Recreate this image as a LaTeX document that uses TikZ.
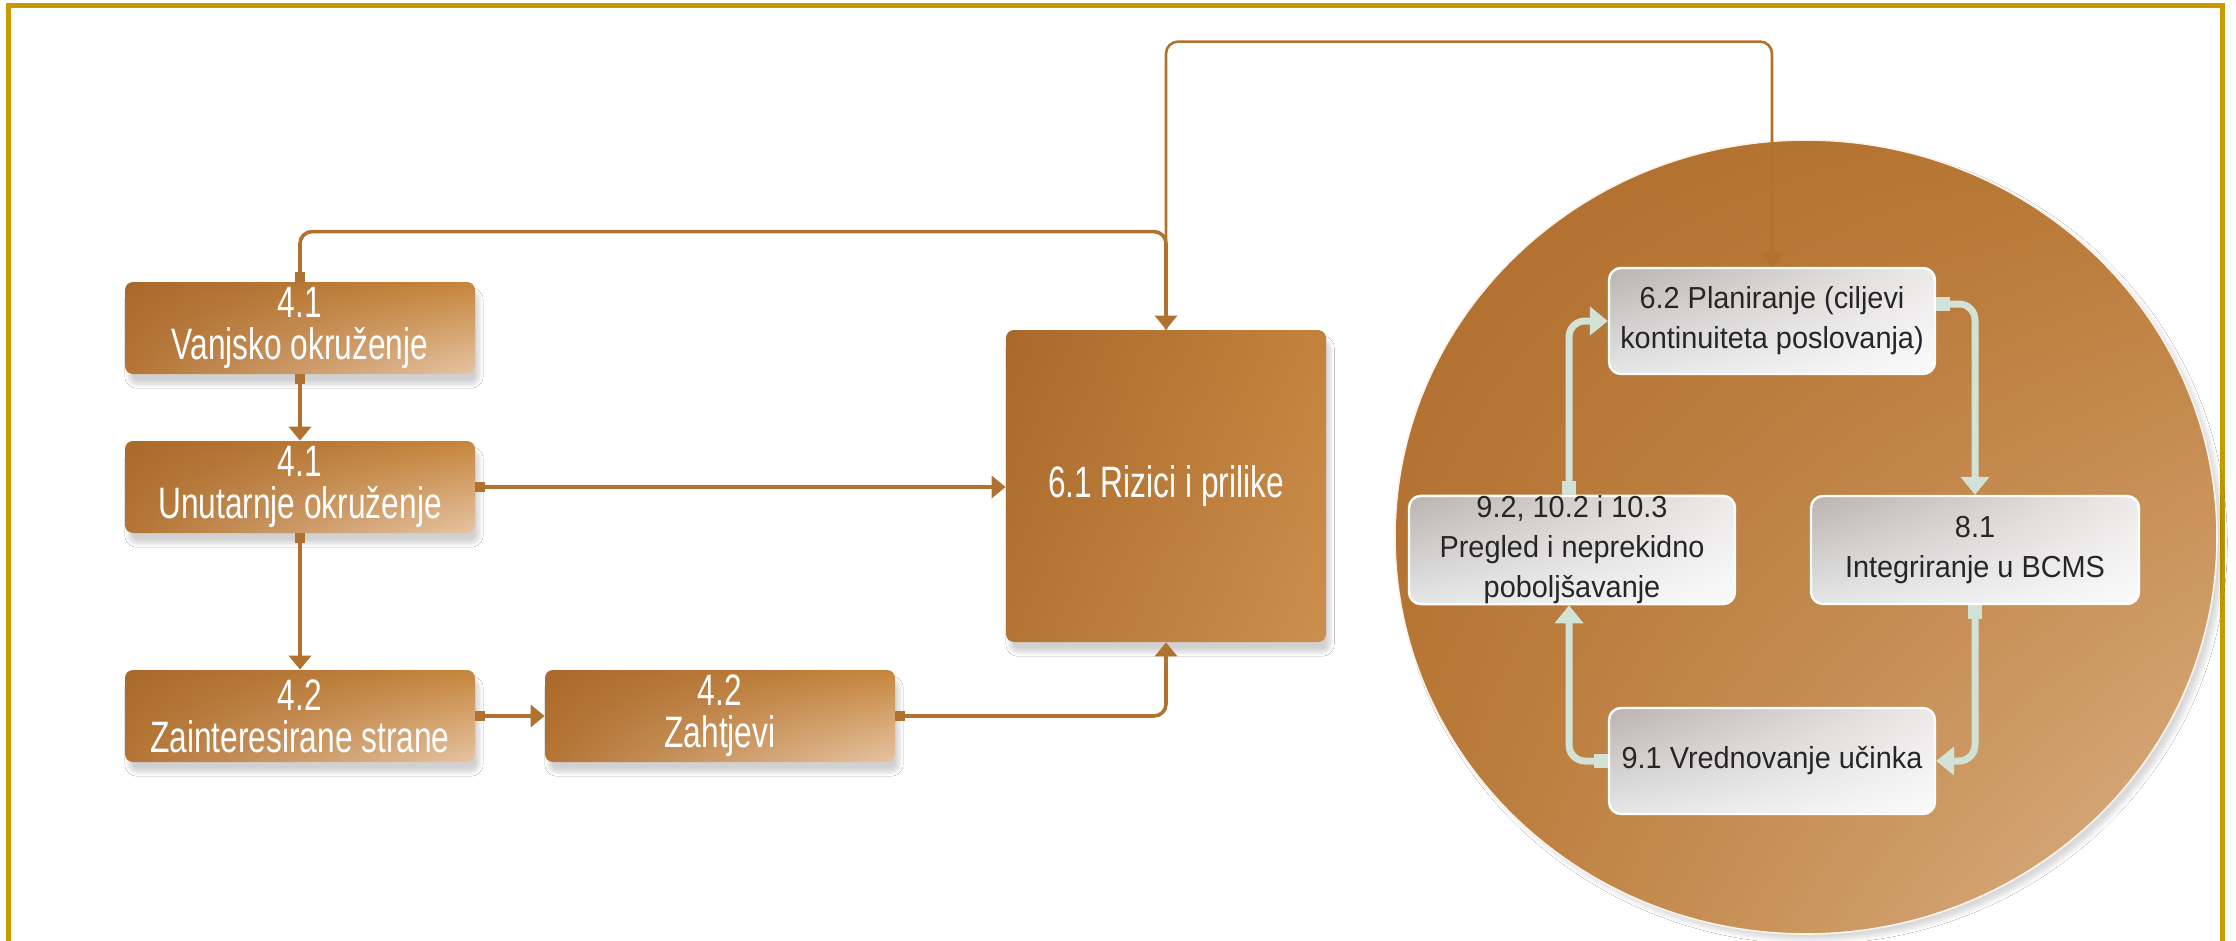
\documentclass[tikz,border=0pt]{standalone}
\usepackage{fontspec}
\setmainfont{Liberation Sans}
\newfontfamily\condfont[FakeStretch=0.72]{Liberation Sans}
\newfontfamily\greyfont[FakeStretch=0.95]{Liberation Sans}
\usetikzlibrary{arrows.meta,shadows.blur,shapes.geometric,shadings}
\definecolor{framec}{HTML}{C89B00}
\definecolor{brA}{HTML}{A9692B}
\definecolor{brB}{HTML}{C6863D}
\definecolor{brC}{HTML}{B47434}
\definecolor{brD}{HTML}{E6C4A2}
\definecolor{brE}{HTML}{CB8F50}
\definecolor{ciA}{HTML}{B06E2E}
\definecolor{ciB}{HTML}{B97833}
\definecolor{ciC}{HTML}{B97936}
\definecolor{ciD}{HTML}{DDB48A}
\definecolor{connc}{HTML}{B0722F}
\definecolor{mintc}{HTML}{D3E2D6}
\definecolor{gA}{HTML}{BBB3AF}
\definecolor{gB}{HTML}{ECEAE9}
\definecolor{gC}{HTML}{E4E6E8}
\definecolor{gD}{HTML}{FBFBFB}
\definecolor{greytext}{HTML}{262626}
\tikzset{
  brownbox/.style={rounded corners=4pt, shade, upper left=brA, upper right=brB,
    lower left=brC, lower right=brD,
    blur shadow={shadow xshift=2pt, shadow yshift=-5pt, shadow blur steps=8,
      shadow opacity=18},
    text=white, font=\condfont\fontsize{22}{21}\selectfont, align=center,
    inner sep=0pt, minimum width=175pt, minimum height=46pt},
  greybox/.style={rounded corners=6pt, shade, upper left=gA, upper right=gB,
    lower left=gC, lower right=gD, draw=white, line width=1.2pt,
    text=greytext, font=\greyfont\fontsize{15.2}{20}\selectfont, align=center,
    inner sep=0pt, minimum width=163pt, minimum height=53pt},
  bconn/.style={draw=connc, line width=1.8pt, rounded corners=6pt,
    {Square[length=5pt,width=5pt]}-{Triangle[width=11pt,length=7pt]}},
  bconnend/.style={draw=connc, line width=1.8pt, rounded corners=6pt,
    -{Triangle[width=11pt,length=7pt]}},
  mconn/.style={draw=mintc, line width=3.5pt, rounded corners=8pt,
    {Square[length=7pt,width=7pt]}-{Triangle[width=14pt,length=9pt]}},
}
\begin{document}
\begin{tikzpicture}[x=0.5pt,y=-0.5pt]
\useasboundingbox (0,0) rectangle (2236,941);
\fill[white] (0,0) rectangle (2236,941);
\draw[framec, line width=2.5pt] (8,960) -- (8,6) -- (2222,6) -- (2222,960);

% circle
\node[ellipse, shade, upper left=ciA, upper right=ciB, lower left=ciC, lower right=ciD,
  draw=white!80!brD, line width=0.8pt, minimum width=411pt, minimum height=397pt,
  inner sep=0pt,
  blur shadow={shadow xshift=3pt, shadow yshift=-3pt, shadow blur steps=10,
    shadow opacity=15}] (circ) at (1806,537) {};

% brown boxes
\node[brownbox] (A) at (300,328) {4.1\\Vanjsko okruženje};
\node[brownbox] (B) at (300,487) {4.1\\Unutarnje okruženje};
\node[brownbox] (C) at (300,716) {4.2\\Zainteresirane strane};
\node[brownbox] (D) at (720,716) {4.2\\Zahtjevi};
\node[brownbox, lower right=brE, upper right=brB!90!brA, minimum width=160pt, minimum height=156pt] (E) at (1166,486) {6.1 Rizici i prilike};

% grey boxes
\node[greybox] (P62) at (1772,321) {6.2 Planiranje (ciljevi\\kontinuiteta poslovanja)};
\node[greybox, minimum height=54pt] (P92) at (1572,550) {9.2, 10.2 i 10.3\\Pregled i neprekidno\\poboljšavanje};
\node[greybox, minimum width=164pt, minimum height=54pt] (P81) at (1975,550) {8.1\\Integriranje u BCMS};
\node[greybox] (P91) at (1772,761) {9.1 Vrednovanje učinka};

% brown connectors
\draw[bconn] (A.south) -- (B.north);
\draw[bconn] (B.south) -- (C.north);
\draw[bconn] (C.east) -- (D.west);
\draw[bconn] (B.east) -- (B.east -| E.west);
\draw[bconn] (D.east) -| (E.south);
\draw[bconn] (A.north) -- ++(0,-50) -| (E.north);
\draw[bconnend, line width=1.3pt] (E.north) -- ++(0,-288) -| (P62.north);

% mint connectors
\draw[mconn] ([yshift=8.5pt]P62.east) -| (P81.north);
\draw[mconn] (P81.south) |- (P91.east);
\draw[mconn] (P91.west) -| ([xshift=-1.5pt]P92.south);
\draw[mconn] ([xshift=-1.5pt]P92.north) |- (P62.west);
\end{tikzpicture}
\end{document}
